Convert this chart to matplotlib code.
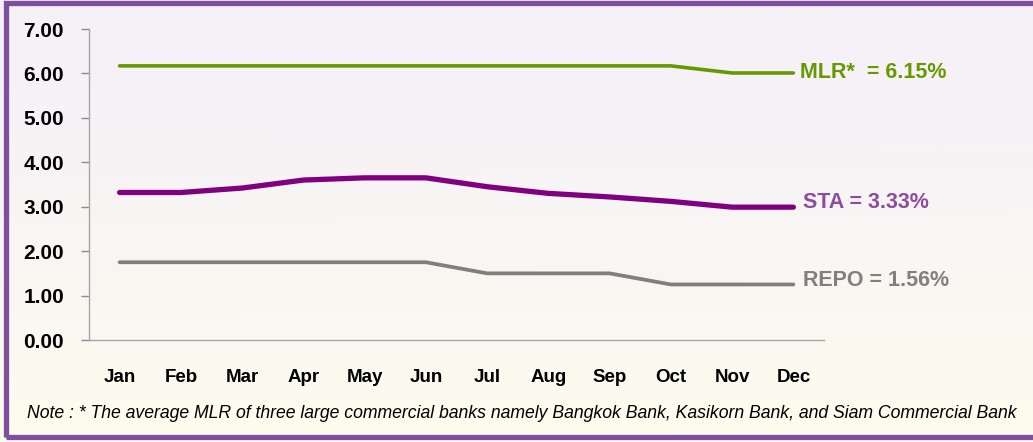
import matplotlib.pyplot as plt
import numpy as np
from matplotlib.patches import Rectangle

months = ["Jan", "Feb", "Mar", "Apr", "May", "Jun", "Jul", "Aug", "Sep", "Oct", "Nov", "Dec"]
mlr = [6.17, 6.17, 6.17, 6.17, 6.17, 6.17, 6.17, 6.17, 6.17, 6.17, 6.01, 6.01]
sta = [3.32, 3.32, 3.42, 3.60, 3.65, 3.65, 3.45, 3.30, 3.22, 3.12, 2.99, 2.99]
repo = [1.75, 1.75, 1.75, 1.75, 1.75, 1.75, 1.50, 1.50, 1.50, 1.25, 1.25, 1.25]
yticks = [0, 1, 2, 3, 4, 5, 6, 7]
series_labels = ["MLR*  = 6.15%", "STA = 3.33%", "REPO = 1.56%"]
note = ("Note : * The average MLR of three large commercial banks namely Bangkok Bank, "
        "Kasikorn Bank, and Siam Commercial Bank")

plt.rcParams["font.family"] = ["Liberation Sans", "DejaVu Sans"]

fig = plt.figure(figsize=(10.33, 4.42), dpi=100)

# soft background gradient (lavender at top -> cream at bottom)
bg = fig.add_axes([0, 0, 1, 1], zorder=-10)
top = np.array([0.962, 0.945, 0.972])
bottom = np.array([0.992, 0.99, 0.93])
t = np.linspace(0, 1, 200)[:, None]
grad = top + (bottom - top) * t ** 1.5
horiz = np.linspace(0, 1, 300)[None, :, None]
img = grad[:, None, :] * (1 - 0.03 * horiz) + 0.03 * horiz
bg.imshow(np.clip(img, 0, 1), aspect="auto", extent=[0, 1, 0, 1])
bg.set_axis_off()

# purple frame
fig.patches.append(Rectangle((6 / 1033, 5 / 442), 1.2, 434 / 442, transform=fig.transFigure,
                             fill=False, edgecolor="#7f4f9f", linewidth=3.8, zorder=5))

ax = fig.add_axes([89 / 1033, (442 - 340) / 442, 735 / 1033, 311 / 442])
ax.patch.set_alpha(0)
x = np.arange(len(months))

ax.plot(x, mlr, color="#669900", linewidth=2.6, solid_capstyle="round", solid_joinstyle="round")
ax.plot(x, sta, color="#800080", linewidth=3.8, solid_capstyle="round", solid_joinstyle="round")
ax.plot(x, repo, color="#7f7f7f", linewidth=2.7, solid_capstyle="round", solid_joinstyle="round")

ax.set_xlim(-0.5, 11.5)
ax.set_ylim(0, 7)
ax.set_xticks(x)
ax.set_xticklabels(months, fontsize=13.5, fontweight="bold")
ax.set_yticks(yticks)
ax.set_yticklabels([f"{v:.2f}" for v in yticks], fontsize=15, fontweight="bold")
ax.tick_params(axis="x", length=0, pad=21)
ax.tick_params(axis="y", length=6, width=1, color="#8c8c8c", pad=12)
for side in ["top", "right"]:
    ax.spines[side].set_visible(False)
for side in ["left", "bottom"]:
    ax.spines[side].set_color("#a6a6a6")
    ax.spines[side].set_linewidth(1)

label_colors = ["#669900", "#8e4ba0", "#808080"]
label_offsets = [(5, 0), (7, 3), (7, 2.5)]
for vals, lab, col, off in zip([mlr, sta, repo], series_labels, label_colors, label_offsets):
    ax.annotate(lab, xy=(x[-1], vals[-1]), xytext=off, textcoords="offset points",
                ha="left", va="center", fontsize=15.5, fontweight="bold", color=col,
                annotation_clip=False)

fig.text(27 / 1033, 1 - 413 / 442, note, fontsize=12.7, style="italic", va="center", ha="left")

fig.savefig("out.png", dpi=100)
